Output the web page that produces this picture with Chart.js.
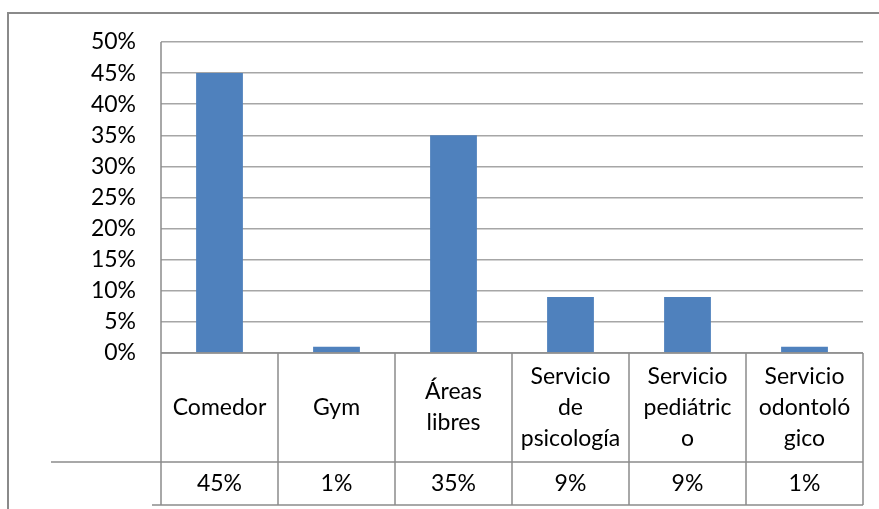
<!DOCTYPE html>
<html>
<head>
<meta charset="utf-8">
<script src="https://cdn.jsdelivr.net/npm/chart.js@4.4.0/dist/chart.umd.min.js"></script>
<style>
  html, body { margin: 0; padding: 0; background: #fff; }
  #wrap { width: 879px; height: 509px; position: relative; }
</style>
</head>
<body>
<div id="wrap"><canvas id="myChart" width="879" height="509"></canvas></div>
<script>
// data
const categories = [
  ['Comedor'],
  ['Gym'],
  ['Áreas', 'libres'],
  ['Servicio', 'de', 'psicología'],
  ['Servicio', 'pediátric', 'o'],
  ['Servicio', 'odontoló', 'gico'],
];
const values = [45, 1, 35, 9, 9, 1];
const tickValues = [0, 5, 10, 15, 20, 25, 30, 35, 40, 45, 50];

const FONT = 'Lato, "Open Sans", sans-serif';
const LINE = '#8c8c8c';

// draws the frame and the data table under the plot
const dataTable = {
  id: 'dataTable',
  afterDraw(chart) {
    const ctx = chart.ctx;
    const x = chart.scales.x;
    const area = chart.chartArea;
    const half = (x.getPixelForValue(1) - x.getPixelForValue(0)) / 2;
    const top = area.bottom;
    const mid = top + 109;
    const bottom = mid + 43;

    ctx.save();
    // outer frame
    ctx.strokeStyle = '#8a8a8a';
    ctx.lineWidth = 2;
    ctx.beginPath();
    ctx.moveTo(8, 509);
    ctx.lineTo(8, 13);
    ctx.lineTo(879, 13);
    ctx.stroke();

    ctx.strokeStyle = LINE;
    ctx.lineWidth = 1.5;
    ctx.beginPath();
    ctx.moveTo(area.left, top);
    ctx.lineTo(area.right, top);
    ctx.moveTo(51, mid);
    ctx.lineTo(area.right, mid);
    ctx.moveTo(152, bottom);
    ctx.lineTo(area.right, bottom);
    ctx.moveTo(area.left, area.top);
    ctx.lineTo(area.left, bottom);
    categories.forEach((c, i) => {
      const xr = x.getPixelForValue(i) + half;
      ctx.moveTo(xr, top);
      ctx.lineTo(xr, bottom);
    });
    ctx.stroke();

    ctx.fillStyle = '#000';
    ctx.font = '23px ' + FONT;
    ctx.textAlign = 'center';
    ctx.textBaseline = 'middle';
    const lh = 31;
    categories.forEach((lines, i) => {
      const cx = x.getPixelForValue(i);
      const y0 = (top + mid) / 2 - (lines.length - 1) * lh / 2;
      lines.forEach((t, j) => ctx.fillText(t, cx, y0 + j * lh));
      ctx.fillText(values[i] + '%', cx, (mid + bottom) / 2);
    });
    ctx.restore();
  }
};

const ctx = document.getElementById('myChart').getContext('2d');
new Chart(ctx, {
  type: 'bar',
  data: {
    labels: categories.map((c) => c.join(' ')),
    datasets: [
      {
        data: values,
        backgroundColor: '#4f81bd',
        borderWidth: 0,
        categoryPercentage: 1,
        barPercentage: 0.4,
      },
    ],
  },
  options: {
    responsive: false,
    animation: false,
    layout: { padding: { left: 0, top: 42, right: 16, bottom: 156 } },
    plugins: { legend: { display: false }, tooltip: { enabled: false } },
    scales: {
      x: { display: false },
      y: {
        min: 0,
        max: 50,
        afterFit: (scale) => { scale.width = 161; },
        afterBuildTicks: (scale) => { scale.ticks = tickValues.map((v) => ({ value: v })); },
        ticks: {
          padding: 25,
          color: '#000',
          font: { family: FONT, size: 23 },
          callback: (v) => v + '%',
        },
        grid: { color: '#a6a6a6', lineWidth: 1.5, drawTicks: false },
        border: { display: false },
      },
    },
  },
  plugins: [dataTable],
});
</script>
</body>
</html>
